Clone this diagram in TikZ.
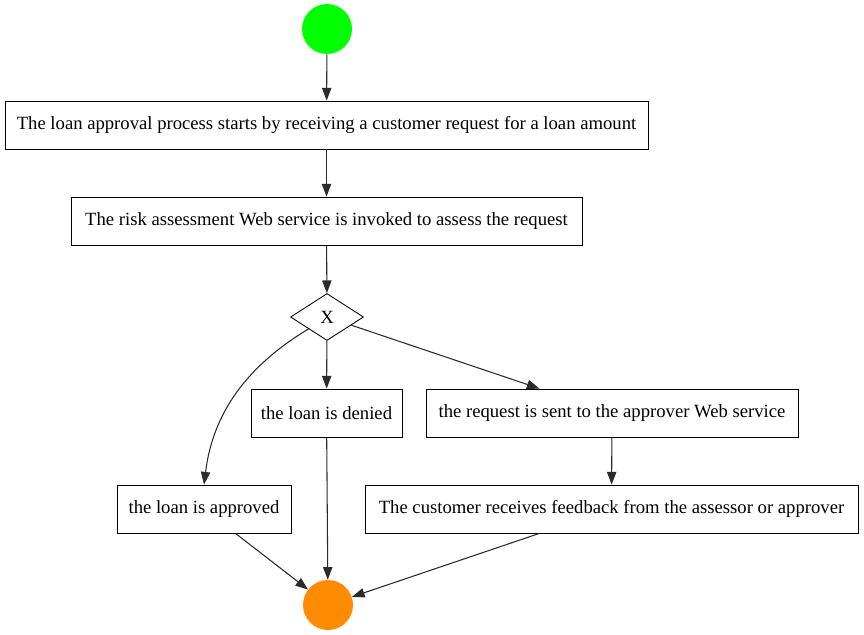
\documentclass[tikz,border=0pt]{standalone}
\usepackage{fontspec}
\setmainfont{Liberation Serif}
\usetikzlibrary{arrows.meta,shapes.geometric}
\definecolor{startgreen}{HTML}{00FF00}
\definecolor{endorange}{HTML}{FF8C00}
\definecolor{edgegray}{HTML}{2B2B2B}
\begin{document}
\begin{tikzpicture}[x=0.75pt,y=-0.75pt,
  box/.style={draw=black,line width=0.65pt,rectangle,minimum height=36pt,inner sep=0pt,font=\fontsize{14pt}{16pt}\selectfont},
  gate/.style={draw=black,line width=0.65pt,diamond,minimum width=54.75pt,minimum height=35.25pt,inner sep=0pt,font=\fontsize{14pt}{16pt}\selectfont},
  startev/.style={circle,fill=startgreen,minimum size=37.5pt,inner sep=0pt},
  endev/.style={circle,fill=endorange,minimum size=37.5pt,inner sep=0pt},
  flow/.style={draw=edgegray,line width=0.8pt,-{Triangle[length=9.5pt,width=7pt]}}
]
\useasboundingbox (0,0) rectangle (864,635);
\node[startev] (s) at (327,29) {};
\node[box,minimum width=482.25pt] (b1) at (326.5,125) {The loan approval process starts by receiving a customer request for a loan amount};
\node[box,minimum width=383.25pt] (b2) at (326.5,221) {The risk assessment Web service is invoked to assess the request};
\node[gate] (g) at (327,317) {X};
\node[box,minimum width=113.25pt] (den) at (326.5,413) {the loan is denied};
\node[box,minimum width=279pt] (req) at (612,413) {the request is sent to the approver Web service};
\node[box,minimum width=130.5pt] (app) at (204,509) {the loan is approved};
\node[box,minimum width=369.75pt] (cus) at (611.5,509) {The customer receives feedback from the assessor or approver};
\node[endev] (e) at (328,605) {};
\draw[flow] (s) -- (b1);
\draw[flow] (b1) -- (b2);
\draw[flow] (b2) -- (g);
\draw[flow] (g) -- (den);
\draw[flow] (g) -- (req);
\draw[flow] (g.south west) .. controls (240,370) and (212,420) .. (app.north);
\draw[flow] (req) -- (cus);
\draw[flow] (den) -- (e);
\draw[flow] (app) -- (e);
\draw[flow] (cus) -- (e);
\end{tikzpicture}
\end{document}
